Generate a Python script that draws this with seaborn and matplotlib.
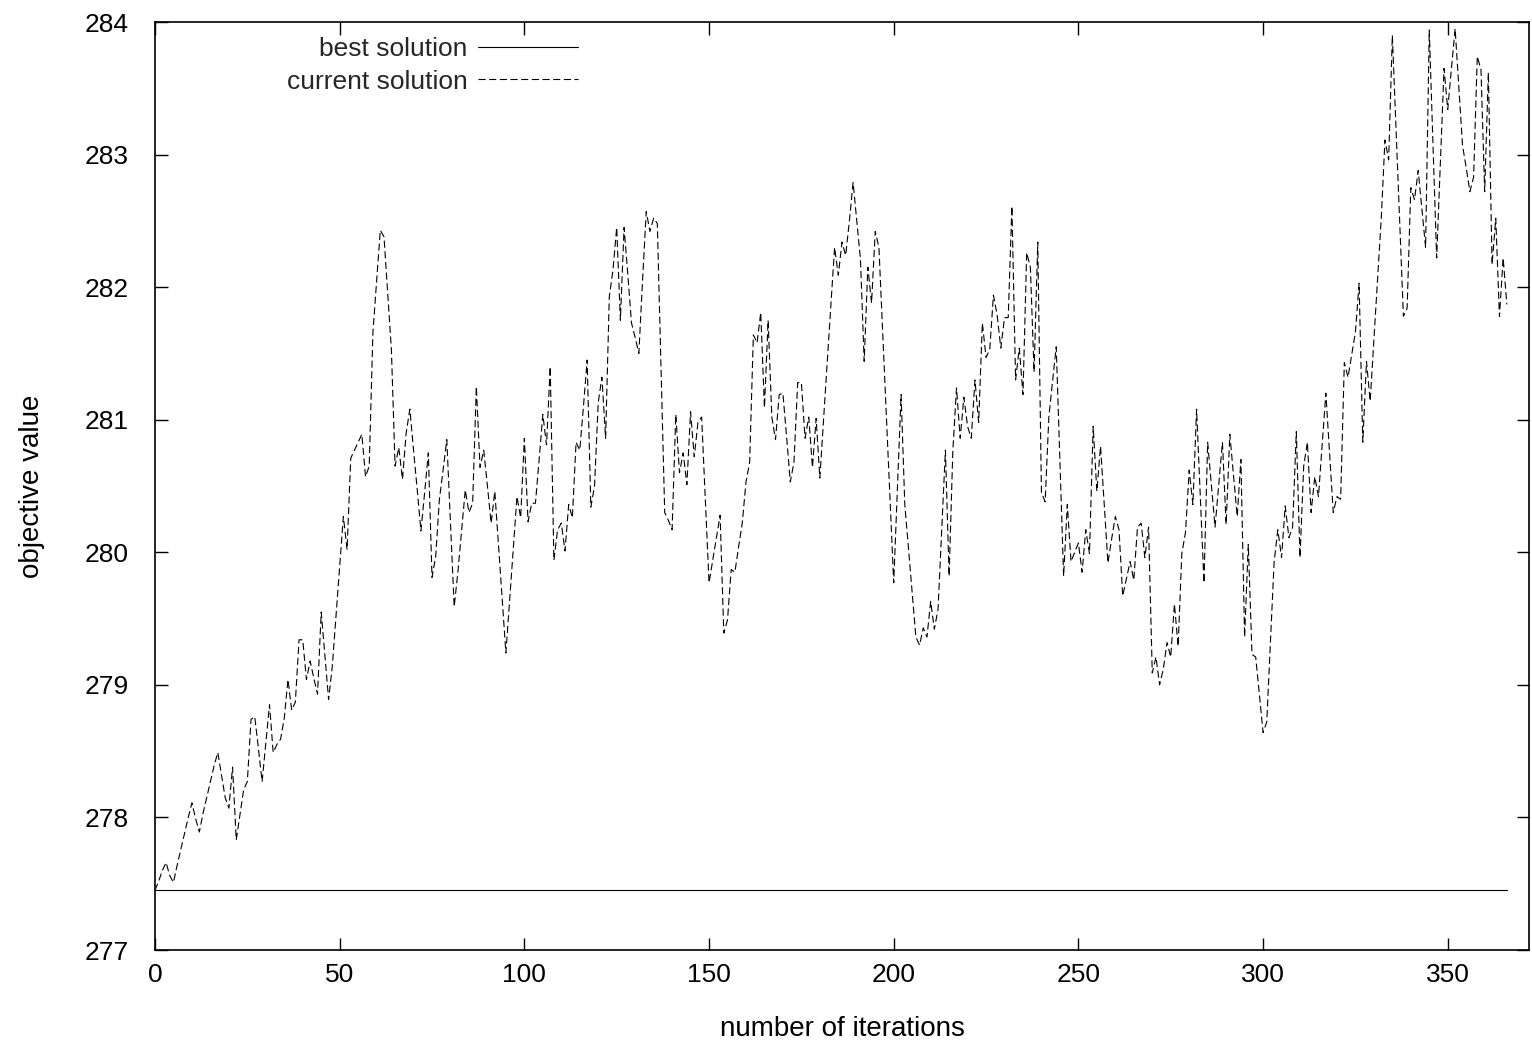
import numpy as np
import pandas as pd
import matplotlib
matplotlib.use("Agg")
import matplotlib.pyplot as plt
import seaborn as sns

current_solution = [
    277.45, 277.52, 277.60, 277.66, 277.56, 277.51, 277.64, 277.76, 277.88, 278.00,
    278.11, 277.99, 277.89, 278.03, 278.15, 278.27, 278.39, 278.49, 278.32, 278.15,
    278.07, 278.38, 277.83, 278.02, 278.21, 278.27, 278.74, 278.76, 278.52, 278.27,
    278.56, 278.85, 278.49, 278.55, 278.59, 278.75, 279.04, 278.81, 278.87, 279.34,
    279.34, 279.04, 279.18, 279.05, 278.93, 279.55, 279.22, 278.89, 279.14, 279.52,
    279.90, 280.27, 280.02, 280.71, 280.77, 280.83, 280.89, 280.57, 280.65, 281.66,
    282.05, 282.43, 282.38, 281.95, 281.53, 280.65, 280.79, 280.55, 280.90, 281.08,
    280.77, 280.47, 280.16, 280.45, 280.75, 279.81, 279.97, 280.40, 280.62, 280.85,
    280.22, 279.59, 279.85, 280.16, 280.47, 280.30, 280.37, 281.25, 280.64, 280.77,
    280.50, 280.22, 280.46, 280.05, 279.65, 279.24, 279.63, 280.02, 280.42, 280.26,
    280.86, 280.23, 280.37, 280.37, 280.70, 281.04, 280.81, 281.40, 279.94, 280.17,
    280.22, 280.01, 280.36, 280.26, 280.83, 280.77, 281.10, 281.45, 280.34, 280.50,
    281.13, 281.32, 280.86, 281.93, 282.13, 282.45, 281.75, 282.45, 282.10, 281.73,
    281.62, 281.50, 282.05, 282.57, 282.42, 282.52, 282.48, 281.40, 280.30, 280.24,
    280.17, 281.04, 280.60, 280.75, 280.51, 281.06, 280.72, 280.98, 281.02, 280.40,
    279.77, 279.94, 280.11, 280.28, 279.39, 279.49, 279.87, 279.85, 280.04, 280.22,
    280.53, 280.68, 281.64, 281.58, 281.81, 281.09, 281.75, 281.02, 280.85, 281.19,
    281.20, 280.87, 280.53, 280.68, 281.28, 281.28, 280.86, 281.02, 280.64, 281.01,
    280.56, 281.00, 281.43, 281.87, 282.30, 282.09, 282.34, 282.24, 282.50, 282.79,
    282.50, 282.21, 281.44, 282.15, 281.88, 282.42, 282.30, 281.67, 281.05, 280.41,
    279.77, 280.48, 281.19, 280.36, 280.03, 279.69, 279.36, 279.30, 279.43, 279.36,
    279.63, 279.42, 279.57, 280.17, 280.77, 279.82, 280.76, 281.24, 280.86, 281.17,
    280.95, 280.86, 281.30, 280.98, 281.73, 281.47, 281.53, 281.94, 281.79, 281.54,
    281.77, 281.77, 282.61, 281.30, 281.54, 281.19, 282.26, 282.15, 281.36, 282.34,
    280.45, 280.38, 281.02, 281.29, 281.55, 280.68, 279.82, 280.36, 279.93, 280.00,
    280.07, 279.85, 280.17, 279.99, 280.95, 280.46, 280.80, 280.36, 279.92, 280.10,
    280.27, 280.17, 279.67, 279.80, 279.93, 279.79, 280.19, 280.22, 279.96, 280.19,
    279.09, 279.21, 279.00, 279.12, 279.32, 279.21, 279.61, 279.29, 279.99, 280.15,
    280.62, 280.36, 281.08, 280.43, 279.77, 280.83, 280.51, 280.19, 280.51, 280.83,
    280.21, 280.89, 280.58, 280.27, 280.70, 279.36, 280.06, 279.23, 279.21, 278.93,
    278.64, 278.72, 279.33, 279.93, 280.17, 279.96, 280.35, 280.11, 280.19, 280.91,
    279.96, 280.65, 280.83, 280.30, 280.57, 280.42, 280.81, 281.20, 280.75, 280.30,
    280.42, 280.40, 281.43, 281.32, 281.49, 281.66, 282.03, 280.83, 281.44, 281.14,
    281.60, 282.06, 282.52, 283.11, 282.96, 283.90, 283.19, 282.49, 281.78, 281.84,
    282.75, 282.66, 282.88, 282.59, 282.30, 283.94, 283.08, 282.22, 282.94, 283.65,
    283.34, 283.65, 283.95, 283.51, 283.07, 282.90, 282.72, 282.83, 283.74, 283.64,
    282.72, 283.62, 282.17, 282.52, 281.78, 282.22, 281.87,
]
iterations = list(range(len(current_solution)))
# best solution found so far = running minimum of the current objective value
best_solution = np.minimum.accumulate(current_solution)

x_ticks = [0, 50, 100, 150, 200, 250, 300, 350]
y_ticks = [277, 278, 279, 280, 281, 282, 283, 284]
x_range = (0, 372)
y_range = (277, 284)

sns.set_theme(style="ticks")
plt.rcParams["font.family"] = ["Liberation Sans", "DejaVu Sans"]

W, H = 1532, 1048
FS = 19
fig = plt.figure(figsize=(W / 100, H / 100), dpi=100)
ax = fig.add_axes([155 / W, 1 - 950 / H, (1529 - 155) / W, (950 - 22) / H])

df = pd.DataFrame({"iteration": iterations,
                   "best": best_solution,
                   "current": current_solution})

sns.lineplot(data=df, x="iteration", y="best", ax=ax, color="black",
             linewidth=0.8, label="best solution")
sns.lineplot(data=df, x="iteration", y="current", ax=ax, color="black",
             linewidth=0.8, label="current solution")
ax.lines[1].set_dashes((6.4, 3.2))

ax.set_xlim(*x_range)
ax.set_ylim(*y_range)
ax.set_xticks(x_ticks)
ax.set_yticks(y_ticks)
ax.tick_params(axis="both", direction="in", length=9, width=1.0,
               top=True, right=True, labelsize=FS, colors="black")
ax.tick_params(axis="x", pad=9)
ax.tick_params(axis="y", pad=19)
for s in ax.spines.values():
    s.set_linewidth(1.2)
    s.set_color("black")

ax.set_xlabel("number of iterations", fontsize=FS + 1, labelpad=21, color="black")
ax.set_ylabel("objective value", fontsize=FS + 1, labelpad=28, color="black")

ax.legend(loc="upper right", bbox_to_anchor=(0.308, 0.984), markerfirst=False,
          frameon=False, fontsize=FS, handlelength=3.8, handletextpad=0.4,
          labelspacing=0.33, borderpad=0, borderaxespad=0)

fig.savefig("out.png", dpi=100, facecolor="white")
